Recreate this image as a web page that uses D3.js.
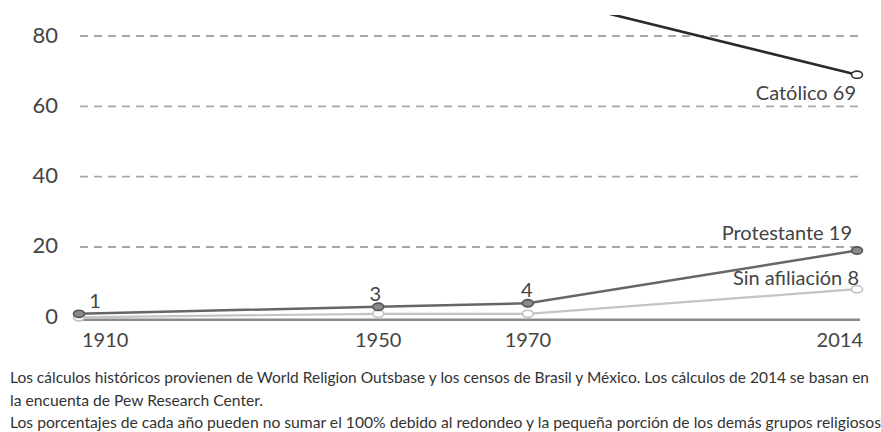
<!DOCTYPE html>
<html>
<head>
<meta charset="utf-8">
<script src="https://cdn.jsdelivr.net/npm/d3@7"></script>
<style>
  html, body { margin: 0; padding: 0; background: #fff; }
  svg { display: block; }
  text { font-family: Lato, "DejaVu Sans Condensed", "Liberation Sans", sans-serif; }
</style>
</head>
<body>
<svg id="chart" width="881" height="432"></svg>
<script>
const years = [1910, 1950, 1970, 2014];
const catolico = [94, 94, 92, 69];
const protestante = [1, 3, 4, 19];
const sinAfiliacion = [0, 1, 1, 8];
const yTicks = [0, 20, 40, 60, 80];
const pointLabels = ["1", "3", "4"];
const seriesNames = ["Católico", "Protestante", "Sin afiliación"];
const captionLines = [
  "Los cálculos históricos provienen de World Religion Outsbase y los censos de Brasil y México. Los cálculos de 2014 se basan en",
  "la encuenta de Pew Research Center.",
  "Los porcentajes de cada año pueden no sumar el 100% debido al redondeo y la pequeña porción de los demás grupos religiosos"
];

const svg = d3.select("#chart");
const x = d3.scaleLinear().domain([1910, 2014]).range([79, 857]);
const y = d3.scaleLinear().domain([0, 80]).range([317.3, 36]);

// gridlines
svg.append("g").selectAll("line")
  .data(yTicks.filter(d => d > 0))
  .join("line")
  .attr("x1", 80).attr("x2", 860)
  .attr("y1", d => y(d)).attr("y2", d => y(d))
  .attr("stroke", "#a8a8a8").attr("stroke-width", 1.8)
  .attr("stroke-dasharray", "8,6");

// y labels
svg.append("g").selectAll("text")
  .data(yTicks)
  .join("text")
  .attr("x", 58).attr("y", d => y(d) - 2)
  .attr("text-anchor", "end").attr("dominant-baseline", "central")
  .attr("font-size", 22).attr("fill", "#444")
  .text(d => d);

// baseline axis
svg.append("line")
  .attr("x1", 80).attr("x2", 860)
  .attr("y1", y(0) + 2.5).attr("y2", y(0) + 2.5)
  .attr("stroke", "#8a8a8a").attr("stroke-width", 2.5);

// x labels
svg.append("g").selectAll("text")
  .data(years)
  .join("text")
  .attr("x", (d, i) => x(d) + (i === 0 ? 3 : i === years.length - 1 ? 6 : 0))
  .attr("y", 339)
  .attr("text-anchor", (d, i) => i === 0 ? "start" : i === years.length - 1 ? "end" : "middle")
  .attr("dominant-baseline", "central")
  .attr("font-size", 20).attr("fill", "#444")
  .text(d => d);

// clip
svg.append("clipPath").attr("id", "plotclip")
  .append("rect").attr("x", 0).attr("y", 15).attr("width", 881).attr("height", 400);

const line = d3.line().x(d => x(d[0])).y(d => y(d[1]));
const plot = svg.append("g").attr("clip-path", "url(#plotclip)");

const series = [
  { vals: sinAfiliacion, stroke: "#c4c4c4", width: 2.2, mfill: "#fff", mstroke: "#c0c0c0" },
  { vals: protestante, stroke: "#666", width: 2.5, mfill: "#8a8a8a", mstroke: "#555" },
  { vals: catolico, stroke: "#2a2a2a", width: 2.6, mfill: "#fff", mstroke: "#333" }
];

series.forEach(s => {
  const pts = years.map((yr, i) => [yr, s.vals[i]]);
  plot.append("path").datum(pts)
    .attr("d", line).attr("fill", "none")
    .attr("stroke", s.stroke).attr("stroke-width", s.width);
  plot.append("g").selectAll("ellipse")
    .data(pts)
    .join("ellipse")
    .attr("cx", d => x(d[0])).attr("cy", d => y(d[1]))
    .attr("rx", 5.5).attr("ry", 3.6)
    .attr("fill", s.mfill).attr("stroke", s.mstroke).attr("stroke-width", 1.6);
});

// point labels for Protestante
svg.append("g").selectAll("text")
  .data(pointLabels)
  .join("text")
  .attr("x", (d, i) => x(years[i]) + (i === 0 ? 16 : i === 1 ? -3 : -1))
  .attr("y", (d, i) => y(protestante[i]) - 14)
  .attr("text-anchor", "middle").attr("dominant-baseline", "central")
  .attr("font-size", 20).attr("fill", "#444")
  .text(d => d);

// series end labels
const endLabels = [
  { text: seriesNames[0] + " " + catolico[3], v: catolico[3], dy: 17, dx: -1 },
  { text: seriesNames[1] + " " + protestante[3], v: protestante[3], dy: -18, dx: -5 },
  { text: seriesNames[2] + " " + sinAfiliacion[3], v: sinAfiliacion[3], dy: -12, dx: 2 }
];
svg.append("g").selectAll("text")
  .data(endLabels)
  .join("text")
  .attr("x", d => x(2014) + d.dx)
  .attr("y", d => y(d.v) + d.dy)
  .attr("text-anchor", "end").attr("dominant-baseline", "central")
  .attr("font-size", 20).attr("fill", "#444")
  .text(d => d.text);

// caption
const capWidths = [859, 253, 871];
svg.append("g").selectAll("text")
  .data(captionLines)
  .join("text")
  .attr("x", 10)
  .attr("y", (d, i) => 377 + i * 22.5)
  .attr("dominant-baseline", "central")
  .attr("font-size", 15).attr("fill", "#333")
  .attr("textLength", (d, i) => capWidths[i])
  .attr("lengthAdjust", "spacingAndGlyphs")
  .text(d => d);
</script>
</body>
</html>
